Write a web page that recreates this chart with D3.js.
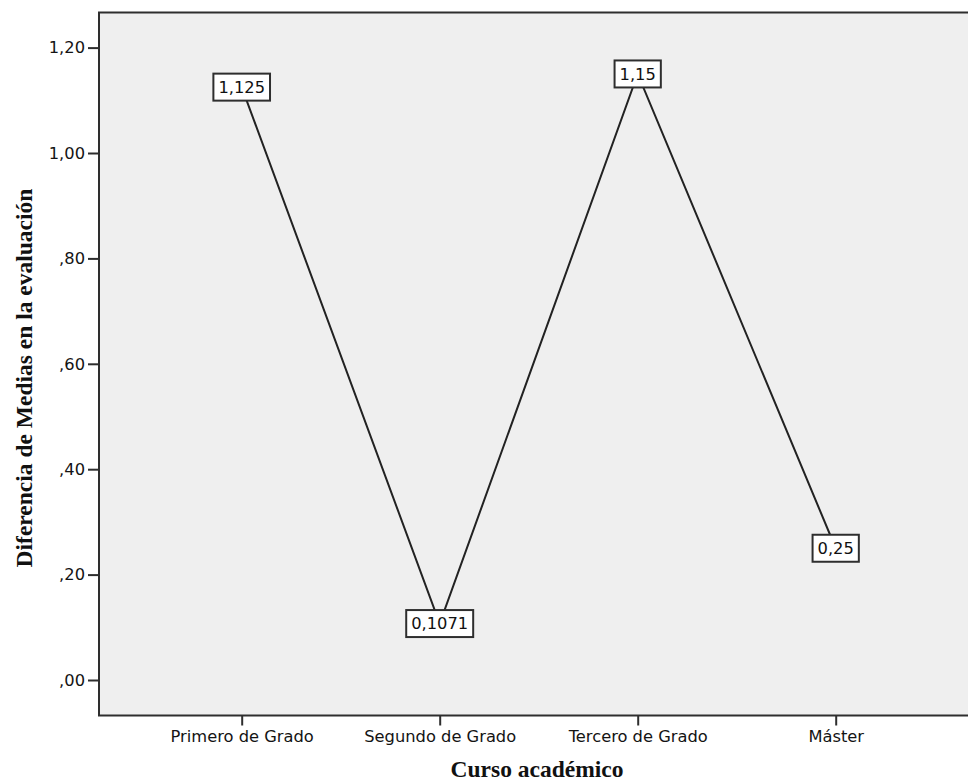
<!DOCTYPE html>
<html>
<head>
<meta charset="utf-8">
<script src="https://cdn.jsdelivr.net/npm/d3@7/dist/d3.min.js"></script>
<style>
  html, body { margin: 0; padding: 0; background: #fff; }
  svg { display: block; }
</style>
</head>
<body>
<svg id="chart" width="968" height="781"></svg>
<script>
// Mean difference in the evaluation by academic year
const categories = ["Primero de Grado", "Segundo de Grado", "Tercero de Grado", "Máster"];
const meanDiff = [1.125, 0.1071, 1.15, 0.25];
const yTickValues = [0, 0.2, 0.4, 0.6, 0.8, 1.0, 1.2];
const yTickLabels = [",00", ",20", ",40", ",60", ",80", "1,00", "1,20"];
const xTitle = "Curso académico";
const yTitle = "Diferencia de Medias en la evaluación";

const svg = d3.select("#chart");

// plot frame
const frame = { left: 99, top: 12.5, right: 980, bottom: 715.5 };

const y = d3.scaleLinear()
  .domain([0, 1.2])
  .range([680, 47.6]);

const x = d3.scalePoint()
  .domain(categories)
  .range([241.7, 835.7]);

// background panel
svg.append("rect")
  .attr("x", frame.left).attr("y", frame.top)
  .attr("width", frame.right - frame.left)
  .attr("height", frame.bottom - frame.top)
  .attr("fill", "#efefef")
  .attr("stroke", "#2e2e2e")
  .attr("stroke-width", 2);

const tickFont = "DejaVu Sans, sans-serif";

// y axis
const yAxis = d3.axisLeft(y)
  .tickValues(yTickValues)
  .tickFormat((d, i) => yTickLabels[i])
  .tickSize(11)
  .tickPadding(3);

const gy = svg.append("g")
  .attr("transform", `translate(${frame.left},0)`)
  .call(yAxis);
gy.select(".domain").remove();
gy.selectAll(".tick line").attr("stroke", "#2e2e2e").attr("stroke-width", 2);
gy.selectAll(".tick text")
  .attr("font-family", tickFont)
  .attr("font-size", 16.3)
  .attr("fill", "#141414");

// x axis
const xAxis = d3.axisBottom(x)
  .tickSize(10)
  .tickPadding(5);

const gx = svg.append("g")
  .attr("transform", `translate(0,${frame.bottom})`)
  .call(xAxis);
gx.select(".domain").remove();
gx.selectAll(".tick line").attr("stroke", "#2e2e2e").attr("stroke-width", 2);
gx.selectAll(".tick text")
  .attr("font-family", tickFont)
  .attr("font-size", 16.3)
  .attr("fill", "#141414");

// the line through the category means
const line = d3.line()
  .x((d, i) => x(categories[i]))
  .y(d => y(d));

svg.append("path")
  .datum(meanDiff)
  .attr("d", line)
  .attr("fill", "none")
  .attr("stroke", "#222")
  .attr("stroke-width", 2);

// value labels in boxes, centred on each point
const fmt = v => String(v).replace(".", ",");
const labels = svg.append("g");
meanDiff.forEach((v, i) => {
  const g = labels.append("g")
    .attr("transform", `translate(${x(categories[i])},${y(v)})`);
  const rect = g.append("rect");
  const t = g.append("text")
    .attr("text-anchor", "middle")
    .attr("dy", "0.36em")
    .attr("font-family", tickFont)
    .attr("font-size", 16.3)
    .attr("fill", "#111")
    .text(fmt(v));
  const bb = t.node().getBBox();
  const padX = 5, boxH = 27;
  rect.attr("x", bb.x - padX)
    .attr("y", -boxH / 2)
    .attr("width", bb.width + 2 * padX)
    .attr("height", boxH)
    .attr("fill", "#fff")
    .attr("stroke", "#2e2e2e")
    .attr("stroke-width", 2);
});

// axis titles
svg.append("text")
  .attr("x", 537).attr("y", 777)
  .attr("text-anchor", "middle")
  .attr("font-family", "Liberation Serif, Times New Roman, serif")
  .attr("font-weight", "bold")
  .attr("font-size", 23.5)
  .attr("fill", "#111")
  .text(xTitle);

svg.append("text")
  .attr("transform", "translate(32,378) rotate(-90)")
  .attr("text-anchor", "middle")
  .attr("font-family", "Liberation Serif, Times New Roman, serif")
  .attr("font-weight", "bold")
  .attr("font-size", 23.5)
  .attr("fill", "#111")
  .text(yTitle);
</script>
</body>
</html>
